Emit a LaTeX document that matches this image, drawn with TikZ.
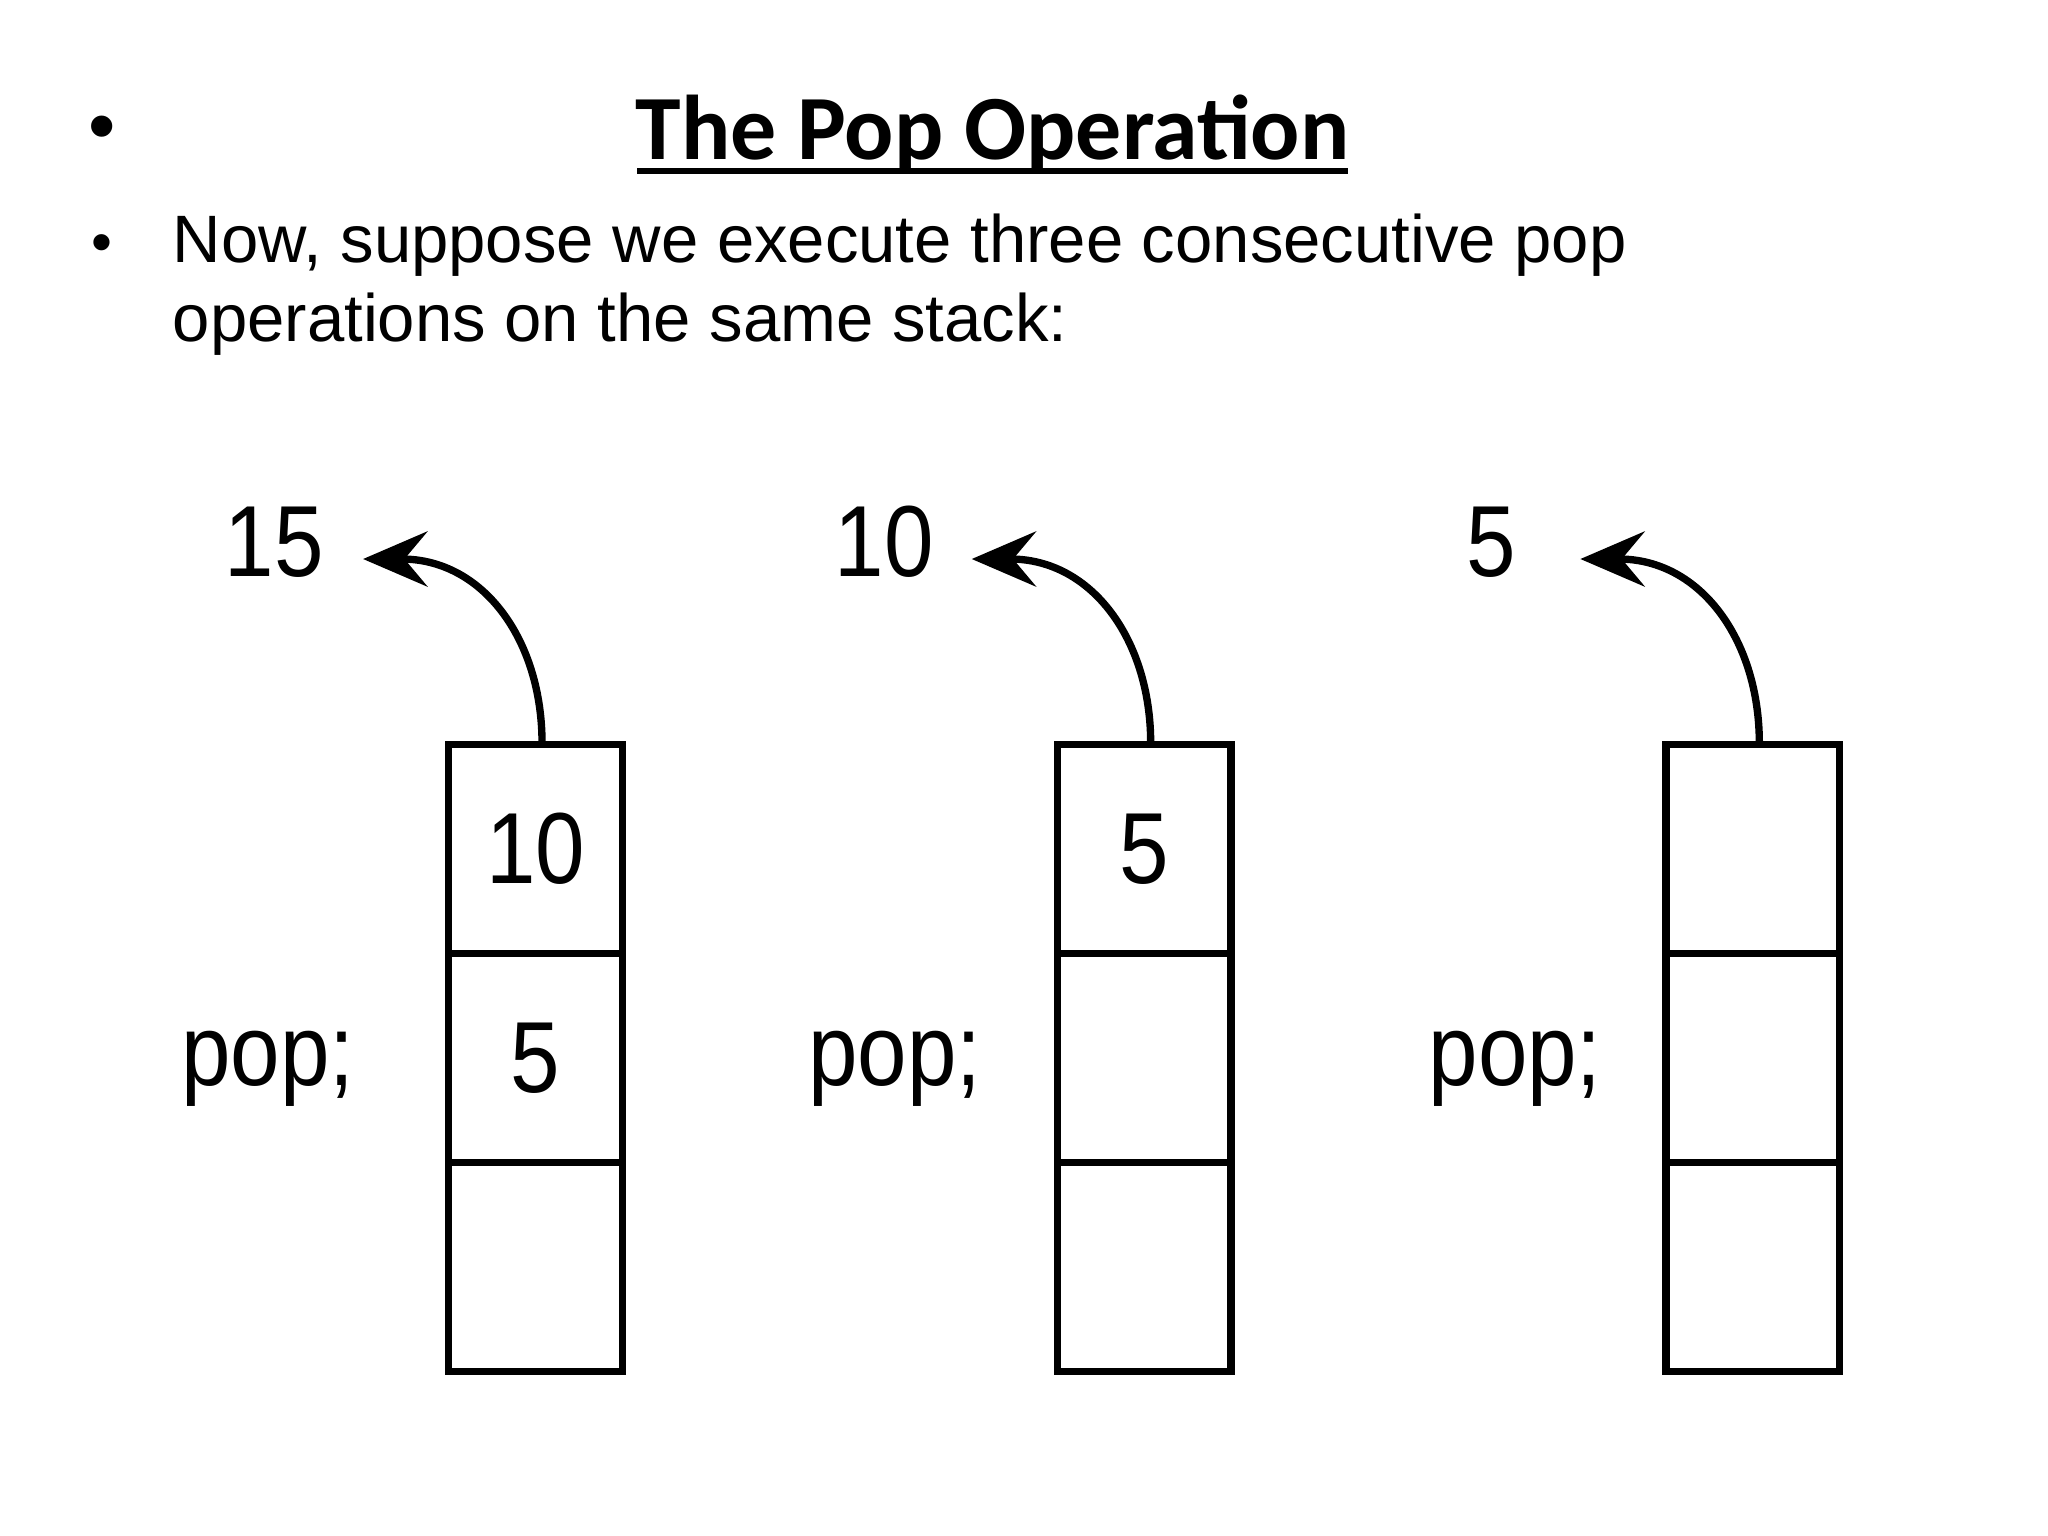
\documentclass[tikz,border=0pt]{standalone}
\usepackage{fontspec}
\setmainfont{Liberation Sans}
\newfontfamily\titlefont{Carlito}
\usetikzlibrary{arrows.meta}
\begin{document}
\begin{tikzpicture}[x=0.01cm,y=-0.01cm,
  cell/.style={draw,line width=1.6pt,minimum width=1.33cm,minimum height=1.6cm,inner sep=0,outer sep=0,font=\fontsize{22}{24}\selectfont\addfontfeature{FakeStretch=0.88}},
  lbl/.style={font=\fontsize{22}{24}\selectfont\addfontfeature{FakeStretch=0.88}},
  arr/.style={line width=1.6pt,-{Stealth[length=14pt,width=12pt,inset=5pt]}}]
\useasboundingbox (0,0) rectangle (1568,1176);
\node (b0) at (78,103) {\fontsize{17}{20}\selectfont •};
\node (title) at (760,103) {\titlefont\bfseries\fontsize{20}{24}\selectfont The Pop Operation};
\draw[line width=1.3pt] (488,131) -- (1032,131);
\node (b1) at (78,190) {\fontsize{13}{16}\selectfont •};
\node[anchor=west,align=left,font=\fontsize{14.6}{17.3}\selectfont] (txt) at (120,218) {Now, suppose we execute three consecutive pop\\operations on the same stack:};
\foreach \i/\x/\top/\mid/\out/\px/\ox in {1/410/10/5/15/205/210, 2/876/5//10/685/677, 3/1342///5/1160/1142}{
  \node[cell] (t\i) at (\x,650) {\top};
  \node[cell] (m\i) at (\x,810) {\mid};
  \node[cell] (l\i) at (\x,970) {};
  \node[lbl] (p\i) at (\px,818) {pop;};
  \node[lbl] (o\i) at (\ox,415) {\out};
  \coordinate (s\i) at (\x+5,569);
  \coordinate (e\i) at (\x-132,428);
  \draw[arr] (s\i) .. controls (\x+5,490) and (\x-40,428) .. (e\i);
}
\end{tikzpicture}
\end{document}
